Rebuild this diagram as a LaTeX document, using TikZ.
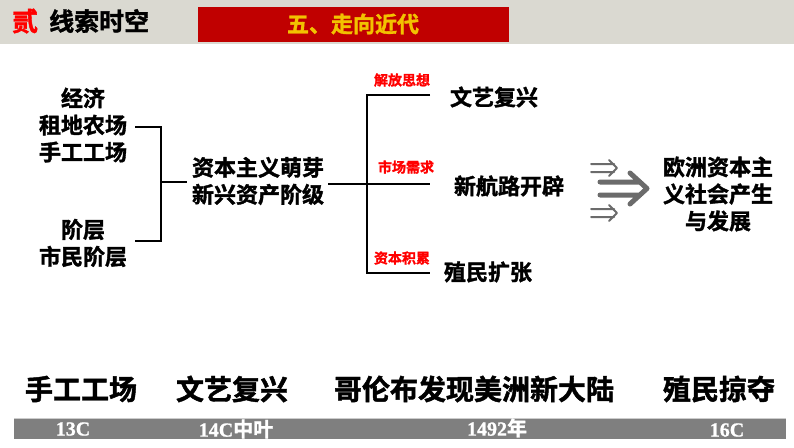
\documentclass[tikz,border=0pt]{standalone}
\usepackage{fontspec}
\newfontfamily\cjk{Noto Sans CJK SC}[BoldFont={Noto Sans CJK SC Bold}, BoldFeatures={FakeBold=1.6}]
\newfontfamily\serifb{Liberation Serif}[BoldFeatures={FakeBold=1}]
\definecolor{hdr}{HTML}{DAD9D1}
\definecolor{darkred}{HTML}{C00000}
\definecolor{gold}{HTML}{F2C200}
\definecolor{arrowgray}{HTML}{6B6B6B}
\definecolor{bargray}{HTML}{7F7F7F}
\begin{document}
\begin{tikzpicture}[x=1pt,y=-1pt,
  lbl/.style={font=\cjk\bfseries\fontsize{22}{27}\selectfont, align=center, inner sep=0pt, text=black},
  redlbl/.style={font=\cjk\bfseries\fontsize{14}{16}\selectfont, inner sep=0pt, text=red},
  bigl/.style={font=\cjk\bfseries\fontsize{28}{32}\selectfont, inner sep=0pt, text=black},
  barl/.style={font=\serifb\bfseries\fontsize{20}{22}\selectfont, inner sep=0pt, text=white},
  conn/.style={line width=1.6pt, black},
  dbl/.style={line width=2.4pt, arrowgray, line cap=round, line join=round}
]
\useasboundingbox (0,0) rectangle (794,447);
\fill[white] (0,0) rectangle (794,447);
% header
\fill[hdr] (0,0) rectangle (794,44);
\fill[darkred] (198,7) rectangle (509,42);
\node[inner sep=0pt, font=\cjk\bfseries\fontsize{26}{28}\selectfont, text=red] (er) at (25,21) {贰};
\node[inner sep=0pt, font=\cjk\bfseries\fontsize{25}{28}\selectfont, anchor=west] (title) at (49,21) {线索时空};
\node[inner sep=0pt, font=\cjk\bfseries\fontsize{22}{26}\selectfont, text=gold] (sec) at (353,24) {五、走向近代};

% left groups
\node[lbl] (econ) at (83,125) {经济\\租地农场\\手工工场};
\node[lbl] (cls) at (83,243) {阶层\\市民阶层};
\node[lbl] (mid) at (258,181) {资本主义萌芽\\新兴资产阶级};
\coordinate (a1) at (135,127);
\coordinate (a2) at (161,127);
\coordinate (a3) at (161,241);
\coordinate (a4) at (135,241);
\coordinate (a5) at (161,182);
\coordinate (a6) at (187,182);
\draw[conn] (a1) -- (a2) -- (a3) -- (a4);
\draw[conn] (a5) -- (a6);

% right bracket
\coordinate (b0) at (328,184);
\coordinate (b1) at (367,184);
\coordinate (bt) at (367,95);
\coordinate (bb) at (367,273);
\coordinate (bt2) at (430,95);
\coordinate (bm2) at (430,184);
\coordinate (bb2) at (430,273);
\draw[conn] (b0) -- (b1);
\draw[conn] (bt2) -- (bt) -- (bb) -- (bb2);
\draw[conn] (b1) -- (bm2);
\node[redlbl] (r1) at (402,80) {解放思想};
\node[redlbl] (r2) at (406,167) {市场需求};
\node[redlbl] (r3) at (402,258) {资本积累};
\node[lbl] (wy) at (494,97) {文艺复兴};
\node[lbl] (hl) at (509,186) {新航路开辟};
\node[lbl] (zm) at (488,272) {殖民扩张};

% arrows
\draw[dbl, line width=2pt] (591,164) -- (614,164) (591,172) -- (614,172) (609,160) -- (617,168) -- (609,176);
\draw[dbl, line width=2pt] (591,209) -- (614,209) (591,217) -- (614,217) (609,205) -- (617,213) -- (609,221);
\draw[dbl, line width=5pt] (600,182) -- (640,182) (600,195) -- (640,195) (630,173) -- (647,188.5) -- (630,204);
\node[lbl] (res) at (718,194) {欧洲资本主\\义社会产生\\与发展};

% bottom timeline
\node[bigl] (t1) at (81,389) {手工工场};
\node[bigl] (t2) at (232,389) {文艺复兴};
\node[bigl] (t3) at (474,389) {哥伦布发现美洲新大陆};
\node[bigl] (t4) at (719,389) {殖民掠夺};
\fill[bargray] (14,418) rectangle (786,439);
\draw[gray!40, line width=1pt] (14,418.5) -- (786,418.5);
\node[barl] (y1) at (73,429) {13C};
\node[barl] (y2) at (236,429) {14C{\cjk 中叶}};
\node[barl] (y3) at (497,428) {1492{\cjk 年}};
\node[barl] (y4) at (727,430) {16C};
\end{tikzpicture}
\end{document}
